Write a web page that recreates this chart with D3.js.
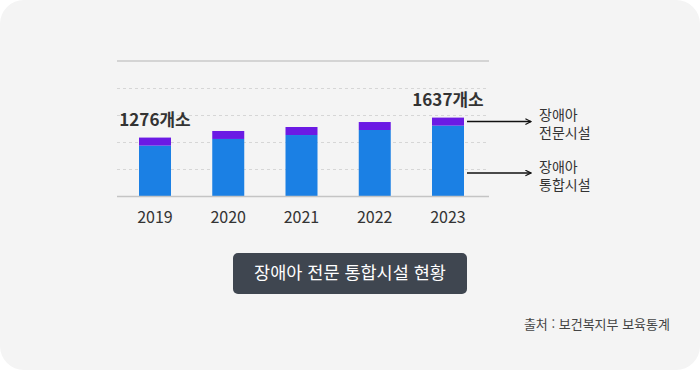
<!DOCTYPE html>
<html lang="ko">
<head>
<meta charset="utf-8">
<script src="https://d3js.org/d3.v7.min.js"></script>
<style>
  html, body { margin: 0; padding: 0; background: #ffffff; }
  svg { display: block; font-family: "Noto Sans CJK KR", "Noto Sans", sans-serif; }
</style>
</head>
<body>
<svg id="chart" width="700" height="370"></svg>
<script>
// données
var years = ["2019", "2020", "2021", "2022", "2023"];
var integrated = [1131, 1251, 1322, 1413, 1492];   // 장애아 통합시설
var specialized = [145, 144, 145, 144, 145];       // 장애아 전문시설
var totalLabels = ["1276개소", "", "", "", "1637개소"];
var legendLabels = [["장애아", "전문시설"], ["장애아", "통합시설"]];
var yMin = 220, yMax = 2660;

var svg = d3.select("#chart");

// fond de la carte
svg.append("rect")
  .attr("width", 700).attr("height", 370)
  .attr("rx", 24).attr("ry", 24)
  .attr("fill", "#f4f4f4");

var plotLeft = 117, plotRight = 489, plotTop = 61, plotBottom = 196;

var x = d3.scalePoint().domain(years).range([155, 448]);
var y = d3.scaleLinear().domain([yMin, yMax]).range([plotBottom, plotTop]);
var barW = 32;

// lignes de grille pointillées
var grid = d3.range(1, 5).map(function(i) { return yMin + i * (yMax - yMin) / 5; });
svg.append("g").selectAll("line")
  .data(grid)
  .enter().append("line")
    .attr("x1", plotLeft).attr("x2", plotRight)
    .attr("y1", function(d) { return Math.round(y(d)) + 0.5; })
    .attr("y2", function(d) { return Math.round(y(d)) + 0.5; })
    .attr("stroke", "#d6d6d6")
    .attr("stroke-width", 1)
    .attr("stroke-dasharray", "3,3");

// ligne du haut
svg.append("line")
  .attr("x1", plotLeft).attr("x2", plotRight)
  .attr("y1", y(yMax)).attr("y2", y(yMax))
  .attr("stroke", "#d4d4d4").attr("stroke-width", 2);

// données empilées
var data = years.map(function(yr, i) {
  return { year: yr, integrated: integrated[i], specialized: specialized[i] };
});
var stacked = d3.stack().keys(["integrated", "specialized"])(data);
var color = { integrated: "#1b80e4", specialized: "#6b1ae4" };

svg.append("g").selectAll("g")
  .data(stacked)
  .enter().append("g")
    .attr("fill", function(d) { return color[d.key]; })
    .selectAll("rect")
    .data(function(d) { return d; })
    .enter().append("rect")
      .attr("x", function(d) { return x(d.data.year) - barW / 2; })
      .attr("y", function(d) { return y(d[1]); })
      .attr("height", function(d) { return y(Math.max(d[0], yMin)) - y(d[1]); })
      .attr("width", barW);

// axe des abscisses
svg.append("line")
  .attr("x1", plotLeft).attr("x2", plotRight)
  .attr("y1", plotBottom + 0.5).attr("y2", plotBottom + 0.5)
  .attr("stroke", "#c4c4c4").attr("stroke-width", 1.5);

svg.append("g").selectAll("text")
  .data(years)
  .enter().append("text")
    .attr("x", function(d) { return x(d); })
    .attr("y", 223)
    .attr("text-anchor", "middle")
    .attr("font-size", 16)
    .attr("fill", "#333")
    .text(function(d) { return d; });

// étiquettes des totaux
svg.append("g").selectAll("text")
  .data(data.filter(function(d, i) { return totalLabels[i] !== ""; }))
  .enter().append("text")
    .attr("x", function(d) { return x(d.year); })
    .attr("y", function(d) { return y(d.integrated + d.specialized) - 12; })
    .attr("text-anchor", "middle")
    .attr("font-size", 17)
    .attr("font-weight", "bold")
    .attr("fill", "#333")
    .text(function(d) { return totalLabels[years.indexOf(d.year)]; });

// flèches de la légende
svg.append("defs").append("marker")
  .attr("id", "arrow")
  .attr("viewBox", "0 0 10 10")
  .attr("refX", 9).attr("refY", 5)
  .attr("markerWidth", 7).attr("markerHeight", 7)
  .attr("markerUnits", "userSpaceOnUse")
  .attr("orient", "auto")
  .append("path")
    .attr("d", "M1,1 L9,5 L1,9")
    .attr("fill", "none")
    .attr("stroke", "#111")
    .attr("stroke-width", 1.6);

var last = data[data.length - 1];
var arrowY = [y(last.integrated + last.specialized / 2), 173];
var textY = [115, 167];

arrowY.forEach(function(ay, i) {
  svg.append("line")
    .attr("x1", 467).attr("x2", 531)
    .attr("y1", ay).attr("y2", ay)
    .attr("stroke", "#111").attr("stroke-width", 1.5)
    .attr("marker-end", "url(#arrow)");
  legendLabels[i].forEach(function(s, j) {
    svg.append("text")
      .attr("x", 539)
      .attr("y", textY[i] + j * 18 + 5)
      .attr("font-size", 14)
      .attr("fill", "#333")
      .text(s);
  });
});

// titre
svg.append("rect")
  .attr("x", 233).attr("y", 253)
  .attr("width", 234).attr("height", 41)
  .attr("rx", 5)
  .attr("fill", "#3f4650");
svg.append("text")
  .attr("x", 350).attr("y", 279)
  .attr("text-anchor", "middle")
  .attr("font-size", 17.5)
  .attr("fill", "#fff")
  .text("장애아 전문 통합시설 현황");

// source
svg.append("text")
  .attr("x", 670).attr("y", 329)
  .attr("text-anchor", "end")
  .attr("font-size", 13)
  .attr("fill", "#444")
  .text("출처 : 보건복지부 보육통계");
</script>
</body>
</html>
